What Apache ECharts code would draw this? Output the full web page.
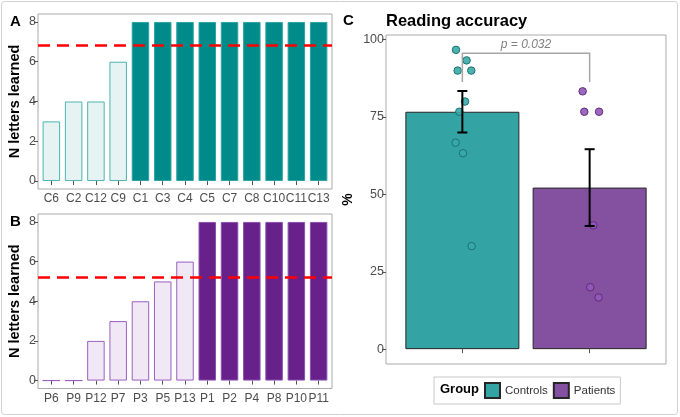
<!DOCTYPE html>
<html>
<head>
<meta charset="utf-8">
<script src="https://cdn.jsdelivr.net/npm/echarts@6/dist/echarts.min.js"></script>
<style>
  html, body { margin: 0; padding: 0; background: #fff; }
  #chart { width: 680px; height: 417px; }
</style>
</head>
<body>
<div id="chart"></div>
<script>
// panel A: controls, letters learned
const labelsA = ['C6', 'C2', 'C12', 'C9', 'C1', 'C3', 'C4', 'C5', 'C7', 'C8', 'C10', 'C11', 'C13'];
const valuesA = [3, 4, 4, 6, 8, 8, 8, 8, 8, 8, 8, 8, 8];
// panel B: patients, letters learned
const labelsB = ['P6', 'P9', 'P12', 'P7', 'P3', 'P5', 'P13', 'P1', 'P2', 'P4', 'P8', 'P10', 'P11'];
const valuesB = [0, 0, 2, 3, 4, 5, 6, 8, 8, 8, 8, 8, 8];
const letterTicks = [0, 2, 4, 6, 8];
const maxLetters = 8;

// panel C: reading accuracy
const groups = ['Controls', 'Patients'];
const groupMeans = [76.7, 52.2];
const groupSE = [6.7, 12.4];
const controlsAcc = [96.7, 93.3, 90, 90, 80, 76.7, 66.7, 63.3, 33.3];
const controlsJitter = [0.95, 1.033, 0.963, 1.07, 1.021, 0.976, 0.947, 1.005, 1.073];
const patientsAcc = [83.3, 76.7, 76.7, 40, 20, 16.7];
const patientsJitter = [1.945, 1.958, 2.074, 2.029, 2.005, 2.07];
const accTicks = [0, 25, 50, 75, 100];
const pText = 'p = 0.032';
const bracket = [1, 2, 95.6, 86.3]; // x1, x2, top, leg end

const FONT = 'Liberation Sans, Arial, sans-serif';
const mean = (arr) => arr.reduce((a, b) => a + b, 0) / arr.length;

const letterBars = (values, full, fullBorder, light, lightBorder) =>
  values.map((v, i) => ({
    value: [i + 1, v],
    itemStyle: v === maxLetters
      ? { color: full, borderColor: fullBorder, borderWidth: 1 }
      : { color: light, borderColor: lightBorder, borderWidth: 1 },
  }));

const letterXAxis = (gridIndex, labels) => ({
  type: 'value', gridIndex, min: 0.4, max: labels.length + 0.6,
  splitLine: { show: false },
  axisLine: { show: false },
  axisTick: { show: true, customValues: labels.map((_, i) => i + 1), length: 4, lineStyle: { color: '#555' } },
  axisLabel: {
    customValues: labels.map((_, i) => i + 1), margin: 4,
    formatter: (v) => labels[Math.round(v) - 1],
    color: '#4d4d4d', fontSize: 12, fontFamily: FONT,
  },
});

const letterYAxis = (gridIndex) => ({
  type: 'value', gridIndex, min: -0.4, max: 8.4,
  name: 'N letters learned', nameLocation: 'middle', nameGap: 16,
  nameTextStyle: { fontSize: 14.5, fontWeight: 'bold', color: '#000', fontFamily: FONT },
  splitLine: { show: false },
  axisLine: { show: false },
  axisTick: { show: true, customValues: letterTicks, length: 4, lineStyle: { color: '#555' } },
  axisLabel: { customValues: letterTicks, margin: 2, color: '#4d4d4d', fontSize: 12.5, fontFamily: FONT },
});

const meanLine = (values) => ({
  silent: true, symbol: 'none', label: { show: false },
  lineStyle: { color: '#ff0000', type: [12, 7], width: 2.5 },
  data: [{ yAxis: mean(values) }],
});

const chart = echarts.init(document.getElementById('chart'));

const option = {
  animation: false,
  textStyle: { fontFamily: FONT },
  title: [
    { text: 'A', left: 10, top: 14.5, padding: 0, textStyle: { fontSize: 15, fontWeight: 'bold', color: '#000', fontFamily: FONT } },
    { text: 'B', left: 10, top: 214, padding: 0, textStyle: { fontSize: 15, fontWeight: 'bold', color: '#000', fontFamily: FONT } },
    { text: 'C', left: 343, top: 13.5, padding: 0, textStyle: { fontSize: 15, fontWeight: 'bold', color: '#000', fontFamily: FONT } },
    { text: 'Reading accuracy', left: 386, top: 12.5, padding: 0, textStyle: { fontSize: 16.5, fontWeight: 'bold', color: '#000', fontFamily: FONT } },
  ],
  graphic: [
    { type: 'rect', shape: { x: 1.5, y: 1.5, width: 676, height: 413, r: 3 }, style: { fill: 'none', stroke: '#d0d0d0', lineWidth: 1 }, silent: true },
    { type: 'text', left: 440, top: 383, style: { text: 'Group', fill: '#000', font: 'bold 13px ' + FONT } },
  ],
  legend: {
    data: groups, left: 434, top: 377,
    padding: [5, 5, 5, 50], itemWidth: 15, itemHeight: 15, itemGap: 5,
    borderColor: '#c8c8c8', borderWidth: 1,
    icon: 'rect',
    textStyle: { fontSize: 11.5, color: '#333', fontFamily: FONT },
    selectedMode: false,
  },
  grid: [
    { left: 38, top: 14, width: 294, height: 175, show: true, borderColor: '#aaaaaa', borderWidth: 1, backgroundColor: '#fff' },
    { left: 38, top: 214, width: 294, height: 174.5, show: true, borderColor: '#aaaaaa', borderWidth: 1, backgroundColor: '#fff' },
    { left: 386, top: 35, width: 280, height: 329, show: true, borderColor: '#aaaaaa', borderWidth: 1, backgroundColor: '#fff' },
  ],
  xAxis: [
    letterXAxis(0, labelsA),
    letterXAxis(1, labelsB),
    {
      type: 'value', gridIndex: 2, min: 0.4, max: 2.6,
      splitLine: { show: false }, axisLine: { show: false },
      axisTick: { show: true, customValues: [1, 2], length: 4, lineStyle: { color: '#555' } },
      axisLabel: { show: false },
    },
  ],
  yAxis: [
    letterYAxis(0),
    letterYAxis(1),
    {
      type: 'value', gridIndex: 2, min: -4.8, max: 101.5,
      name: '%', nameLocation: 'middle', nameGap: 31,
      nameTextStyle: { fontSize: 14, fontWeight: 'bold', color: '#000', fontFamily: FONT },
      splitLine: { show: false }, axisLine: { show: false },
      axisTick: { show: true, customValues: accTicks, length: 4, lineStyle: { color: '#555' } },
      axisLabel: { customValues: accTicks, margin: 2, color: '#4d4d4d', fontSize: 12.5, fontFamily: FONT },
    },
  ],
  series: [
    {
      type: 'bar', xAxisIndex: 0, yAxisIndex: 0, barWidth: 17.5,
      data: letterBars(valuesA, '#008b8b', '#2fa3a3', '#e6f3f3', '#4db3b3'),
      markLine: meanLine(valuesA),
    },
    {
      type: 'bar', xAxisIndex: 1, yAxisIndex: 1, barWidth: 17.5,
      data: letterBars(valuesB, '#68208a', '#8a50b0', '#f0e8f5', '#9a5fc0'),
      markLine: meanLine(valuesB),
    },
    {
      name: 'Controls', type: 'bar', xAxisIndex: 2, yAxisIndex: 2, barWidth: 114, barGap: '-100%',
      itemStyle: { color: '#33a3a3', borderColor: '#262626', borderWidth: 1 },
      data: [[1, groupMeans[0]]],
    },
    {
      name: 'Patients', type: 'bar', xAxisIndex: 2, yAxisIndex: 2, barWidth: 114, barGap: '-100%',
      itemStyle: { color: '#8450a0', borderColor: '#262626', borderWidth: 1 },
      data: [[2, groupMeans[1]]],
    },
    {
      name: 'Controls pts', type: 'scatter', xAxisIndex: 2, yAxisIndex: 2, symbolSize: 7.5,
      itemStyle: { color: 'rgba(55,168,168,0.9)', borderColor: '#1d7272', borderWidth: 1, opacity: 1 },
      data: controlsAcc.map((v, i) => [controlsJitter[i], v]),
    },
    {
      name: 'Patients pts', type: 'scatter', xAxisIndex: 2, yAxisIndex: 2, symbolSize: 7.5,
      itemStyle: { color: 'rgba(148,88,185,0.9)', borderColor: '#5e2d7a', borderWidth: 1, opacity: 1 },
      data: patientsAcc.map((v, i) => [patientsJitter[i], v]),
    },
    {
      type: 'custom', xAxisIndex: 2, yAxisIndex: 2, silent: true, z: 5,
      data: groupMeans.map((m, i) => [i + 1, m, groupSE[i]]),
      renderItem: (params, api) => {
        const x = api.value(0), m = api.value(1), s = api.value(2);
        const top = api.coord([x, m + s]);
        const bot = api.coord([x, m - s]);
        const style = { stroke: '#000', lineWidth: 2 };
        return {
          type: 'group',
          children: [
            { type: 'line', shape: { x1: top[0], y1: top[1], x2: bot[0], y2: bot[1] }, style },
            { type: 'line', shape: { x1: top[0] - 5, y1: top[1], x2: top[0] + 5, y2: top[1] }, style },
            { type: 'line', shape: { x1: bot[0] - 5, y1: bot[1], x2: bot[0] + 5, y2: bot[1] }, style },
          ],
        };
      },
    },
    {
      type: 'custom', xAxisIndex: 2, yAxisIndex: 2, silent: true, z: 5,
      data: [bracket],
      renderItem: (params, api) => {
        const a = api.coord([api.value(0), api.value(2)]);
        const b = api.coord([api.value(1), api.value(2)]);
        const aEnd = api.coord([api.value(0), api.value(3)]);
        const style = { stroke: '#a6a6a6', lineWidth: 1.5, fill: 'none' };
        return {
          type: 'group',
          children: [
            { type: 'polyline', shape: { points: [[aEnd[0], aEnd[1]], a, b, [b[0], aEnd[1]]] }, style },
            {
              type: 'text', x: (a[0] + b[0]) / 2, y: a[1] - 3,
              style: { text: pText, textAlign: 'center', textVerticalAlign: 'bottom', fill: '#7f7f7f', font: 'italic 12px ' + FONT },
            },
          ],
        };
      },
    },
  ],
};

chart.setOption(option);
</script>
</body>
</html>
